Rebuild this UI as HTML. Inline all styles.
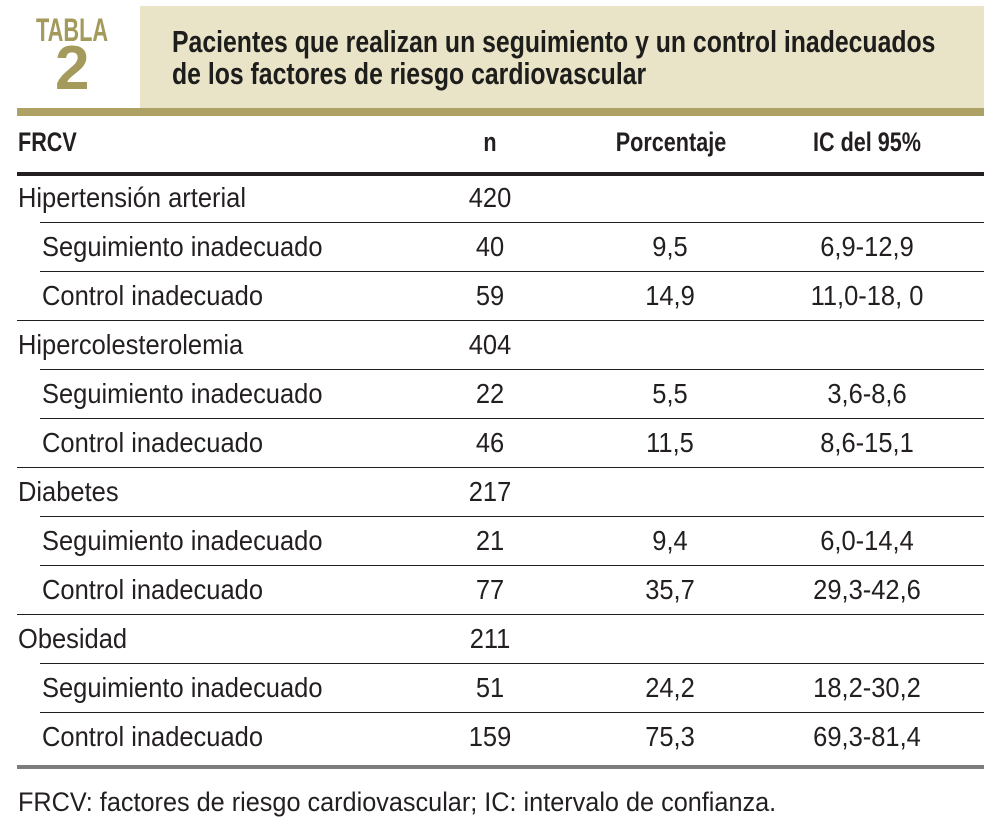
<!DOCTYPE html>
<html><head><meta charset="utf-8">
<style>
body{margin:0;width:995px;height:833px;background:#fff;position:relative;overflow:hidden;font-family:"Liberation Sans Narrow","Liberation Sans",sans-serif;color:#231f20}
.a{position:absolute;white-space:nowrap}
.cell{position:absolute;font-size:28px;line-height:30px;white-space:nowrap;transform:scaleX(0.91);transform-origin:left center}
.c{transform:translateX(-50%) scaleX(0.91);transform-origin:center center}
.hdc{position:absolute;top:127px;font-weight:bold;font-size:27px;white-space:nowrap;transform:translateX(-50%) scaleX(0.8)}
</style></head><body>
<div class="a" style="left:36px;top:12px;font-size:32px;font-weight:bold;color:#a39a5c;transform:scaleX(0.68);transform-origin:left top">TABLA</div>
<div class="a" style="left:55px;top:38px;font-size:62px;font-weight:bold;color:#a39a5c;line-height:62px">2</div>
<div class="a" style="left:140px;top:6px;width:844px;height:102px;background:#e9e3c8"></div>
<div class="a" style="left:172px;top:26px;font-size:31px;font-weight:bold;line-height:32px;color:#1d1d1b;transform:scaleX(0.8);transform-origin:left top">Pacientes que realizan un seguimiento y un control inadecuados<br>de los factores de riesgo cardiovascular</div>
<div class="a" style="left:17px;top:108px;width:967px;height:8px;background:#aea165"></div>
<div class="a" style="left:18px;top:127px;font-weight:bold;font-size:27px;transform:scaleX(0.8);transform-origin:left top">FRCV</div>
<div class="hdc" style="left:490px">n</div>
<div class="hdc" style="left:671px">Porcentaje</div>
<div class="hdc" style="left:867px">IC del 95%</div>
<div class="a" style="left:17px;top:172px;width:967px;height:4px;background:#231f20"></div>
<div id="rows"></div>
<div class="a" style="left:17px;top:765px;width:967px;height:4px;background:#7d7d7d"></div>
<div class="a" style="left:18px;top:787px;font-size:27px;line-height:30px;transform:scaleX(0.935);transform-origin:left top">FRCV: factores de riesgo cardiovascular; IC: intervalo de confianza.</div>
<script>
const labels=["Hipertensión arterial","Seguimiento inadecuado","Control inadecuado","Hipercolesterolemia","Seguimiento inadecuado","Control inadecuado","Diabetes","Seguimiento inadecuado","Control inadecuado","Obesidad","Seguimiento inadecuado","Control inadecuado"];
const nVals=["420","40","59","404","22","46","217","21","77","211","51","159"];
const pctVals=["","9,5","14,9","","5,5","11,5","","9,4","35,7","","24,2","75,3"];
const icVals=["","6,9-12,9","11,0-18, 0","","3,6-8,6","8,6-15,1","","6,0-14,4","29,3-42,6","","18,2-30,2","69,3-81,4"];
const host=document.getElementById('rows');
const top0=176,rh=49;
labels.forEach((lab,i)=>{
  const sub=i%3!==0;
  const y=top0+i*rh;
  const cy=y+7;
  const l=document.createElement('div');
  l.className='cell';l.style.left=(sub?42:18)+'px';l.style.top=cy+'px';l.textContent=lab;
  
  
  host.appendChild(l);
  [[nVals[i],490,'n-value'],[pctVals[i],670,'percent-value'],[icVals[i],867,'ci-value']].forEach(([v,x,nm])=>{
    if(!v)return;
    const d=document.createElement('div');
    d.className='cell c';d.style.left=x+'px';d.style.top=cy+'px';d.textContent=v;
    
    
    host.appendChild(d);
  });
  if(i<labels.length-1){
    const nextSub=(i+1)%3!==0;
    const r=document.createElement('div');
    r.className='a';
    const x0=nextSub?40:17;
    r.style.cssText='left:'+x0+'px;top:'+(y+46)+'px;width:'+(984-x0)+'px;height:1px;background:#231f20';
    
    
    host.appendChild(r);
  }
});
</script>
</body></html>
